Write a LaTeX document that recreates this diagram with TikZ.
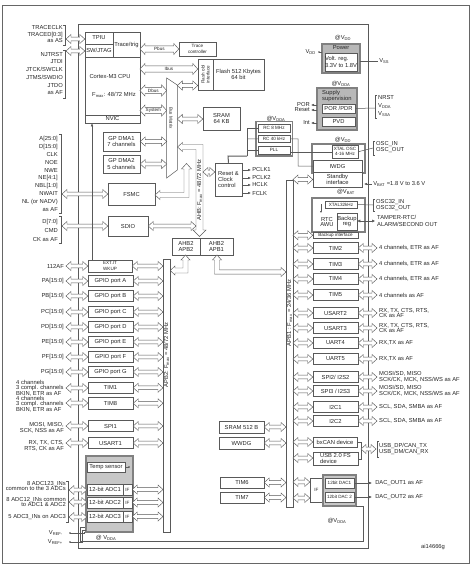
\documentclass[tikz,border=0pt]{standalone}
\usepackage{fontspec}
\setmainfont{Liberation Sans}
\usetikzlibrary{calc,arrows.meta}
\newcommand{\fs}{\fontsize{5.8}{6.2}\selectfont}
\newcommand{\fss}{\fontsize{4.6}{5.2}\selectfont}
\newcommand{\fsc}{\fontsize{5.8}{5.7}\selectfont}
\newcommand{\fsm}{\fontsize{5.8}{7.8}\selectfont}
\tikzset{
  lab/.style={font=\fs, inner sep=0pt, text=black!85},
  blk/.style={draw=black!65, fill=white, line width=0.5pt, inner sep=0pt, font=\fs, align=center, text=black!85},
  harr/.style={draw=black!65, fill=white, line width=0.45pt, line join=miter},
  ln/.style={draw=black!65, line width=0.5pt},
  grp/.style={draw=black!50, line width=1.3pt},
  tipl/.style={-{Latex[length=3pt,width=2.6pt]}},
}
\newcommand{\bx}[7][]{\node[blk, minimum width={((#5)-(#3))*1pt}, minimum height={((#6)-(#4))*1pt}, #1] (#2) at ({((#3)+(#5))/2},{((#4)+(#6))/2}) {#7};}
\newcommand{\dah}[2]{\path[harr] let \p1=(#1), \p2=(#2) in (\x1,\y1) -- (\x1+5pt,\y1+4.5pt) -- (\x1+5pt,\y1+1.8pt) -- (\x2-5pt,\y1+1.8pt) -- (\x2-5pt,\y1+4.5pt) -- (\x2,\y1) -- (\x2-5pt,\y1-4.5pt) -- (\x2-5pt,\y1-1.8pt) -- (\x1+5pt,\y1-1.8pt) -- (\x1+5pt,\y1-4.5pt) -- cycle;}
\newcommand{\dahb}[3]{\path[harr] let \p1=(#1), \p2=(#2) in (\x1,\y1) -- (\x1+5pt,\y1+5.5pt) -- (\x1+5pt,\y1+3.2pt) -- (\x2-5pt,\y1+3.2pt) -- (\x2-5pt,\y1+5.5pt) -- (\x2,\y1) -- (\x2-5pt,\y1-5.5pt) -- (\x2-5pt,\y1-3.2pt) -- (\x1+5pt,\y1-3.2pt) -- (\x1+5pt,\y1-5.5pt) -- cycle (0.5*\x1+0.5*\x2,\y1) node[lab,font=\fss] {#3};}
\newcommand{\rbk}[3]{\draw[ln] ({#1-2},#2) -- (#1,#2) -- (#1,#3) -- ({#1-2},#3);}
\newcommand{\lbk}[3]{\draw[ln] ({#1+2},#2) -- (#1,#2) -- (#1,#3) -- ({#1+2},#3);}
\begin{document}
\begin{tikzpicture}[x=1pt,y=-1pt]
\useasboundingbox (0,0) rectangle (474,568);
\fill[white] (0,0) rectangle (474,568);
\draw[black!60, line width=0.8pt] (2,5) rectangle (469,563);
\draw[ln, line width=0.6pt] (78,24) rectangle (368,548);

% ===== CPU
\bx{cpu}{85}{32}{140}{123}{}
\bx{tpiu}{85}{32}{113}{44}{TPIU}
\bx{swj}{85}{44}{113}{57}{SW/JTAG}
\bx{trig}{113}{32}{140}{57}{Trace/trig}
\node[lab] (cm3) at (110,77) {Cortex-M3 CPU};
\node[lab] (fmx) at (114,95) {F\textsubscript{max}: 48/72 MHz};
\bx{nvic}{85}{115}{140}{123}{NVIC}
\node[lab, anchor=east, align=right, font=\fontsize{5.8}{6.5}\selectfont] (trl) at (63,34.5) {TRACECLK\\TRACED[0:3]\\as AS};
\rbk{65}{25}{45}
\node[lab, anchor=east, align=right, font=\fsm] (jtl) at (63,73.5) {NJTRST\\JTDI\\JTCK/SWCLK\\JTMS/SWDIO\\JTDO\\as AF};
\rbk{65}{50}{98}
\coordinate (bkT) at (66,39);
\coordinate (bkJ) at (66,51);
\dah{bkT}{tpiu.west}
\dah{bkJ}{swj.west}

% ===== Trace controller, Flash, SRAM
\bx[font=\fss]{tc}{179}{42}{216}{56}{Trace\\controller}
\bx{fif}{198}{59}{213}{90}{}
\node[lab, font=\fss, rotate=90, align=center] (fift) at (fif) {Flash obl\\interface};
\bx{flash}{213}{59}{264}{90}{Flash 512 Kbytes\\64 bit}
\bx{sram}{203}{107}{240}{130}{SRAM\\64 KB}
\coordinate (pb) at (140,49);
\coordinate (ib) at (140,69);
\coordinate (db) at (140,90.5);
\coordinate (sy) at (140,110.5);
\coordinate (bmL) at (166.7,0);
\dahb{pb}{tc.west}{Pbus}
\dahb{ib}{fif.west}{Ibus}
\dahb{db}{bmL}{Dbus}
\dahb{sy}{bmL}{System}

% ===== Bus matrix and AHB
\draw[ln, fill=white] (166.7,78) -- (177.3,85) -- (177.3,170) -- (166.7,178) -- cycle;
\node[lab, rotate=-90, font=\fss] (bmx) at (171,118) {Bus Matrix};
\dah{177.3,85.5}{fif.west}
\dah{177.3,119}{sram.west}
\bx{dma1}{103}{132}{140}{151}{GP DMA1\\7 channels}
\bx{dma2}{103}{155}{140}{173}{GP DMA2\\5 channels}
\dah{dma1.east}{bmL}
\dah{dma2.east}{bmL}
\path[harr] (177.5,147) -- (182.5,142.5) -- (182.5,144.5) -- (203,144.5) -- (203,230) -- (206,230) -- (199.5,236.5) -- (193,230) -- (196,230) -- (196,149.5) -- (182.5,149.5) -- (182.5,151.5) -- cycle;
\node[lab, rotate=90] (ahb) at (199.5,190) {AHB: F\textsubscript{max} = 48/72 MHz};

% ===== FSMC / SDIO
\bx{fsmc}{108}{183}{155}{205}{FSMC}
\bx{sdio}{108}{216}{148}{236}{SDIO}
\path[harr] (155,195) -- (160,190.5) -- (160,192.5) -- (184,192.5) -- (184,169) -- (181.5,169) -- (186.5,163.5) -- (191.5,169) -- (189,169) -- (189,197.5) -- (160,197.5) -- (160,199.5) -- cycle;
\node[lab, anchor=east, align=right, font=\fsm] (fsl) at (58,174) {A[25:0]\\D[15:0]\\CLK\\NOE\\NWE\\NE[4:1]\\NBL[1:0]\\NWAIT\\NL (or NADV)\\as AF};
\rbk{61}{134}{213}
\node[lab, anchor=east, align=right, font=\fontsize{5.8}{9}\selectfont] (sdl) at (58,230) {D[7:0]\\CMD\\CK as AF};
\rbk{61}{216}{243}
\dah{62,194}{fsmc.west}
\dah{62,226}{sdio.west}
\dah{sdio.east}{196,226}

% ===== Reset & clock
\bx[align=left]{rcc}{215}{163}{242}{196}{Reset \&\\Clock\\control}
\dah{203,172}{rcc.west}
\foreach \ck/\cy in {PCLK1/170,PCLK2/178,HCLK/185,FCLK/193}
  \draw[ln, tipl] (242,\cy) -- (251,\cy) node[lab, anchor=west, xshift=1pt] (clk\ck) {\ck};
\node[lab] (vdda1) at (276,119) {@V\textsubscript{DDA}};
\draw[grp] (256,121.5) rectangle (292.5,156);
\bx[font=\fss]{rca}{258}{124}{290}{132}{RC 8 MHz}
\bx[font=\fss]{rcb}{258}{135}{290}{142.5}{RC 40 kHz}
\bx[font=\fss]{pll}{258}{146}{290}{154}{PLL}
\draw[ln] (rca.west) -- (247,128) -- (247,156);
\draw[ln] (rcb.west) -- (247,138.8);
\draw[ln] (pll.west) -- (247,150);
\draw[ln, line width=1pt] (rcc.north) -- (228,156) -- (247,156);

% ===== bridges
\bx{brb}{172}{238}{200}{255}{AHB2\\APB2}
\bx{bra}{200}{238}{233}{255}{AHB2\\APB1}
\path[harr] (185.5,255) -- (190,260) -- (188,260) -- (188,273) -- (175,273) -- (175,275) -- (170.2,270.5) -- (175,266) -- (175,268) -- (183,268) -- (183,260) -- (181,260) -- cycle;
\path[harr] (217,255) -- (221.5,260) -- (219.5,260) -- (219.5,269.8) -- (281,269.8) -- (281,267.5) -- (286,272) -- (281,276.5) -- (281,274.2) -- (214.5,274.2) -- (214.5,260) -- (212.5,260) -- cycle;

% ===== APB buses
\draw[ln, fill=white] (163,259) rectangle (170,532);
\node[lab, rotate=90] (apb2t) at (166.5,355) {APB2: F\textsubscript{max} = 48/72 MHz};
\draw[ln, fill=white] (286,180) rectangle (293,507);
\node[lab, rotate=90] (apb1t) at (289.5,313) {APB1 : F\textsubscript{max} = 24/36 MHz};
\coordinate (a2L) at (163,0);
\coordinate (a1L) at (286,0);
\coordinate (a1R) at (293,0);

% ===== Power, supervision
\node[lab] (vdd1) at (343,38) {@V\textsubscript{DD}};
\draw[grp, fill=black!28] (322,44) rectangle (360,73);
\node[lab] (pwt) at (341,48) {Power};
\bx[align=left]{vreg}{325}{53}{357}{71}{Volt. reg.\\3.3V to 1.8V}
\node[lab, anchor=east] (vddl) at (316,52) {V\textsubscript{DD}};
\fill[black!70] (319,52) circle (0.9);
\draw[ln] (319,52) -- (322,52);
\draw[ln] (360,61) -- (378,61) node[lab, anchor=west, xshift=1pt] (vss) {V\textsubscript{SS}};
\node[lab] (vdda2) at (341,84) {@V\textsubscript{DDA}};
\draw[grp, fill=black!28] (317,88) rectangle (357,130);
\node[lab, align=left, anchor=north west] (sst) at (322,90) {Supply\\supervision};
\bx{pdr}{322}{104}{355}{113}{POR /PDR}
\bx{pvd}{322}{117}{355}{126}{PVD}
\draw[ln, tipl] (317,105) -- (311,105) node[lab, anchor=east, xshift=-1pt] (porl) {POR};
\draw[ln, tipl] (317,110) -- (311,110) node[lab, anchor=east, xshift=-1pt] (rstl) {Reset};
\draw[ln, tipl] (317,123) -- (311,123) node[lab, anchor=east, xshift=-1pt] (intl) {Int};
\draw[ln] (pdr.east) -- (375,108);
\lbk{375}{95}{118}
\node[lab, anchor=west, align=left, font=\fontsize{5.8}{7.8}\selectfont] (nrst) at (378,106) {NRST\\V\textsubscript{DDA}\\V\textsubscript{SSA}};

% ===== XTAL / IWDG
\node[lab] (vdd3) at (343,140) {@V\textsubscript{DD}};
\draw[grp] (312,144) rectangle (365,173);
\bx[font=\fss]{xtal}{332}{145.5}{358}{158}{XTAL OSC\\4-16 MHz}
\bx{iwdg}{313}{160}{362}{172}{IWDG}
\bx{stby}{313}{172}{362}{187}{Standby\\interface}
\draw[ln] (xtal.west) -- (pll.east |- xtal.west);
\draw[ln] (rcb.east) -- (298,138.8) |- (iwdg.west);
\draw[ln] (xtal.east) -- (373,148);
\lbk{373}{141}{155}
\node[lab, anchor=west, align=left, font=\fsc] (oscl) at (376,147) {OSC\_IN\\OSC\_OUT};
\draw[ln, {Latex[length=3pt,width=2.6pt]}-] (364,184) -- (372,184) node[lab, anchor=west, xshift=1pt] (vbat) {V\textsubscript{BAT} =1.8 V to 3.6 V};
\node[lab] (vbatd) at (346,192) {@V\textsubscript{BAT}};

% ===== Backup domain
\draw[grp] (312,198) rectangle (365,232);
\bx[font=\fss]{x32}{325}{201}{357}{208}{XTAL32kHz}
\node[lab, align=center, font=\fsc] (rtc) at (327,222) {RTC\\AWU};
\bx[font=\fsc]{bkr}{337}{213}{357}{230}{Backup\\reg}
\bx[font=\fss]{bki}{313}{232}{358}{238.5}{Backup interface}
\draw[ln, -{Latex[length=2pt,width=2pt]}] (321,204) -- (321,213);
\draw[ln] (x32.east) -- (373,205);
\lbk{373}{199}{211}
\node[lab, anchor=west, align=left, font=\fsc] (osc32) at (376,205) {OSC32\_IN\\OSC32\_OUT};
\draw[ln, {Latex[length=3pt,width=3pt]}-{Latex[length=3pt,width=3pt]}] (bkr.east |- 0,221) -- (375,221);
\node[lab, anchor=west, align=left, font=\fontsize{5.8}{7.5}\selectfont] (tamp) at (377,221) {TAMPER-RTC/\\ALARM/SECOND OUT};
\dah{a1R |- stby.west}{stby.west}
\dah{a1R |- bki.west}{bki.west}

% ===== APB1 right peripherals
\foreach \nm/\tx/\py/\lb in {tma/TIM2/248/{4 channels, ETR as AF}, tmb/TIM3/264/{4 channels, ETR as AF}, tmc/TIM4/279/{4 channels, ETR as AF}, tmd/TIM5/295/{4 channels as AF}, usa/USART2/313/{RX, TX, CTS, RTS,\\CK as AF}, usb/USART3/328/{RX, TX, CTS, RTS,\\CK as AF}, uaa/UART4/343/{RX,TX as AF}, uab/UART5/359/{RX,TX as AF}, spa/{SPI2/ I2S2}/377/{MOSI/SD, MISO\\SCK/CK, MCK, NSS/WS as AF}, spb/{SPI3 / I2S3}/391/{MOSI/SD, MISO\\SCK/CK, MCK, NSS/WS as AF}, ica/I2C1/407/{SCL, SDA, SMBA as AF}, icb/I2C2/421/{SCL, SDA, SMBA as AF}} {
  \bx{\nm}{313}{\py-5.3}{358}{\py+5.3}{\tx}
  \dah{293,\py}{\nm.west}
  \dah{\nm.east}{377,\py}
  \node[lab, anchor=west, align=left, font=\fsc] (\nm-l) at (379,\py) {\lb};
}
\bx{can}{313}{437}{357}{447}{bxCAN device}
\bx[align=left]{usbd}{313}{452}{358}{465.5}{USB 2.0 FS\\device}
\dah{293,442}{can.west}
\dah{293,458}{usbd.west}
\draw[ln] (can.east) -| (361,449);
\draw[ln] (usbd.east) -| (361,449);
\dah{361,449}{376,449}
\lbk{377}{441}{457}
\node[lab, anchor=west, align=left, font=\fsc] (usbl) at (379,449) {USB\_DP/CAN\_TX\\USB\_DM/CAN\_RX};

% ===== DAC
\bx[font=\fss]{dif}{310}{478}{323}{502}{IF}
\draw[grp, fill=black!22] (323,475) rectangle (356,506);
\bx[font=\fss]{daca}{325}{478}{354}{488}{12bit DAC1}
\bx[font=\fss]{dacb}{325}{492}{354}{502}{12bit DAC 2}
\dah{293,482}{dif.west}
\dah{293,498}{dif.west}
\draw[ln, tipl] (daca.east) -- (372,483) node[lab, anchor=west, xshift=3pt] (dao1) {DAC\_OUT1 as AF};
\draw[ln, tipl] (dacb.east) -- (372,497) node[lab, anchor=west, xshift=3pt] (dao2) {DAC\_OUT2 as AF};
\node[lab] (vdda4) at (337,521) {@V\textsubscript{DDA}};
\draw[ln, line width=0.7pt] (356,506) -- (363,506) -- (363,541) -- (80,541) -- (80,527) -- (86,527);

% ===== APB1 left peripherals
\bx{srb}{219}{421}{264}{433}{SRAM 512 B}
\bx{wwdg}{219}{437}{264}{449}{WWDG}
\bx{tm6}{220}{477}{264}{488}{TIM6}
\bx{tm7}{220}{492}{264}{503}{TIM7}
\dah{srb.east}{a1L}
\dah{wwdg.east}{a1L}
\dah{tm6.east}{a1L}
\dah{tm7.east}{a1L}

% ===== APB2 left peripherals
\bx[font=\fss]{exti}{88}{260}{132}{272}{EXT.IT\\WKUP}
\node[lab, anchor=east] (exl) at (64,266) {112AF};
\dah{66,266}{exti.west}
\dah{exti.east}{a2L}
\draw[ln, tipl] (exti.north -| 92,0) -- (nvic.south -| 92,0);
\foreach \nm/\tx/\py/\lb in {gpa/GPIO port A/281/PA[15:0], gpb/GPIO port B/296/PB[15:0], gpc/GPIO port C/312/PC[15:0], gpd/GPIO port D/327/PD[15:0], gpe/GPIO port E/342/PE[15:0], gpf/GPIO port F/357/PF[15:0], gpg/GPIO port G/372/PG[15:0]} {
  \bx{\nm}{88}{\py-5.5}{133}{\py+5.5}{\tx}
  \node[lab, anchor=east] (\nm-l) at (64,\py) {\lb};
  \dah{66,\py}{\nm.west}
  \dah{\nm.east}{a2L}
}
\bx{tm1}{88}{382}{133}{393.5}{TIM1}
\bx{tm8}{88}{397.5}{133}{409}{TIM8}
\node[lab, anchor=west, align=left, font=\fsc] (tm1l) at (16,388) {4 channels\\3 compl. channels\\BKIN, ETR as AF};
\node[lab, anchor=west, align=left, font=\fsc] (tm8l) at (16,404) {4 channels\\3 compl. channels\\BKIN, ETR as AF};
\dah{66,388}{tm1.west}
\dah{66,403}{tm8.west}
\dah{tm1.east}{a2L}
\dah{tm8.east}{a2L}
\bx{spi1}{88}{420.5}{133}{431.5}{SPI1}
\bx{usa1}{88}{437.5}{133}{448.5}{USART1}
\node[lab, anchor=east, align=right, font=\fsc] (spl) at (64,428) {MOSI, MISO,\\SCK, NSS as AF};
\node[lab, anchor=east, align=right, font=\fsc] (usl) at (64,446) {RX, TX, CTS,\\RTS, CK as AF};
\dah{66,426}{spi1.west}
\dah{66,443}{usa1.west}
\dah{spi1.east}{a2L}
\dah{usa1.east}{a2L}

% ===== ADC
\draw[grp, fill=black!22] (86,456) rectangle (133,532);
\bx{temp}{87}{462}{125}{472}{Temp sensor}
\bx{adca}{87}{484}{123}{495}{12-bit ADC1}
\bx{adcb}{87}{497}{123}{508}{12-bit ADC2}
\bx{adcc}{87}{511}{123}{522}{12-bit ADC3}
\bx[font=\fss]{ifa}{123}{484}{132}{495}{IF}
\bx[font=\fss]{ifb}{123}{497}{132}{508}{IF}
\bx[font=\fss]{ifc}{123}{511}{132}{522}{IF}
\fill[black!75] (129,467) circle (0.9);
\draw[ln] (129,467) -- (temp.east);
\node[lab, anchor=east, align=right, font=\fsc] (adl1) at (66,486) {8 ADC123\_INs\\common to the 3 ADCs};
\node[lab, anchor=east, align=right, font=\fsc] (adl2) at (66,502) {8 ADC12\_INs common\\to ADC1 \& ADC2};
\node[lab, anchor=east] (adl3) at (66,517) {5 ADC3\_INs on ADC3};
\rbk{68}{481}{522}
\dah{69,490}{adca.west}
\dah{69,502}{adcb.west}
\dah{69,517}{adcc.west}
\dah{ifa.east}{a2L}
\dah{ifb.east}{a2L}
\dah{ifc.east}{a2L}
\node[lab, anchor=east] (vrm) at (63,533) {V\textsubscript{REF-}};
\node[lab, anchor=east] (vrp) at (63,542) {V\textsubscript{REF+}};
\fill[black!75] (70,533) circle (0.9);
\fill[black!75] (70,542) circle (0.9);
\draw[ln] (70,533) -- (84,533) -- (84,532);
\draw[ln] (70,542) -- (82,542) -- (82,530) -- (86,530);
\node[lab] (vdda3) at (106,538) {@ V\textsubscript{DDA}};

\node[lab] (aiid) at (433,547) {ai14666g};
\end{tikzpicture}
\end{document}
